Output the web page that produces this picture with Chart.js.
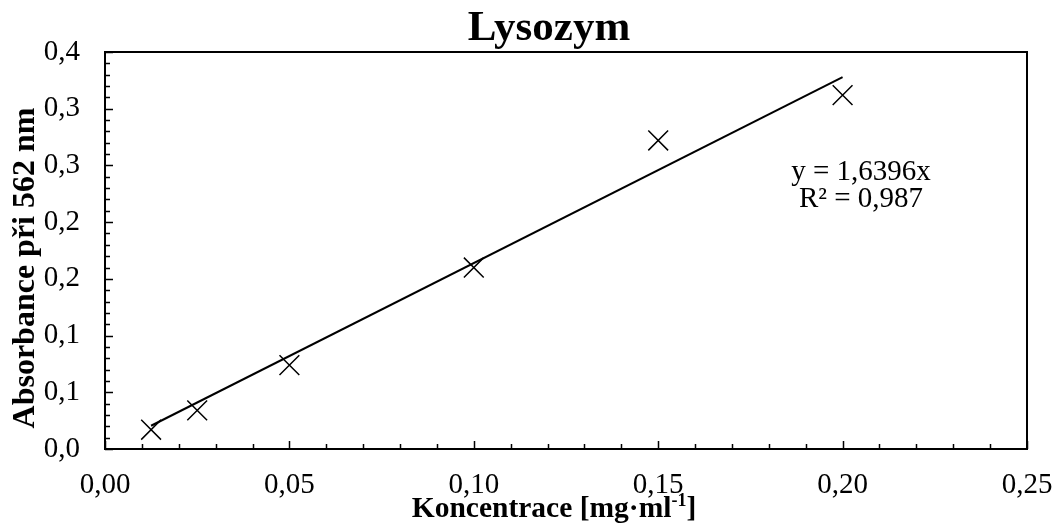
<!DOCTYPE html>
<html>
<head>
<meta charset="utf-8">
<script src="https://cdn.jsdelivr.net/npm/chart.js@4.4.1/dist/chart.umd.min.js"></script>
<style>
  html, body { margin: 0; padding: 0; background: #fff; }
  #wrap { width: 1052px; height: 523px; position: relative; }
</style>
</head>
<body>
<div id="wrap"><canvas id="c"></canvas></div>
<script>
// Lysozyme calibration (BCA assay, absorbance at 562 nm)
const concentrations = [0.0125, 0.025, 0.05, 0.1, 0.15, 0.2];
const absorbances = [0.017, 0.034, 0.074, 0.160, 0.272, 0.312];
const xTickLabels = ['0,00', '0,05', '0,10', '0,15', '0,20', '0,25'];
const yTickLabels = ['0,0', '0,1', '0,1', '0,2', '0,2', '0,3', '0,3', '0,4'];
const trendSlope = 1.6396;
const equationLines = ['y = 1,6396x', 'R² = 0,987'];

const chartTitle = 'Lysozym';
const yTitle = 'Absorbance při 562 nm';
const xTitleMain = 'Koncentrace [mg·ml';
const xTitleSup = '-1';
const xTitleEnd = ']';

const SERIF = '"Liberation Serif", "Times New Roman", serif';

const points = concentrations.map((x, i) => ({ x: x, y: absorbances[i] }));
const xFirst = concentrations[0];
const xLast = concentrations[concentrations.length - 1];
const trendPoints = [
  { x: xFirst, y: trendSlope * xFirst },
  { x: xLast, y: trendSlope * xLast }
];

// Frame, inward tick marks, titles and the regression equation
const decorations = {
  id: 'decorations',
  afterDraw(chart) {
    const { ctx, chartArea: a, scales } = chart;
    const xs = scales.x, ys = scales.y;
    ctx.save();
    ctx.strokeStyle = '#000';
    ctx.lineWidth = 1.5;
    ctx.beginPath();
    // x ticks: major every 0.05, minor every 0.01
    for (let k = 0; k <= 25; k++) {
      const px = Math.round(xs.getPixelForValue(k / 100)) + 0.5;
      const len = (k % 5 === 0) ? 8 : 5;
      ctx.moveTo(px, a.bottom);
      ctx.lineTo(px, a.bottom - len);
    }
    // y ticks: major every 0.05, minor every 0.01
    for (let k = 0; k <= 35; k++) {
      const py = Math.round(ys.getPixelForValue(k / 100)) + 0.5;
      const len = (k % 5 === 0) ? 8 : 5;
      ctx.moveTo(a.left, py);
      ctx.lineTo(a.left + len, py);
    }
    ctx.stroke();
    // plot frame
    ctx.lineWidth = 2;
    ctx.strokeRect(a.left, a.top, a.right - a.left, a.bottom - a.top);

    ctx.fillStyle = '#000';
    // chart title
    ctx.font = 'bold 43px ' + SERIF;
    ctx.textAlign = 'center';
    ctx.textBaseline = 'alphabetic';
    ctx.fillText(chartTitle, 549, 40);

    // regression equation
    ctx.font = '29px ' + SERIF;
    ctx.fillText(equationLines[0], 861, 180);
    ctx.fillText(equationLines[1], 861, 207);

    // x axis title with superscript exponent
    const mainFont = 'bold 29.5px ' + SERIF;
    const supFont = 'bold 18px ' + SERIF;
    ctx.font = mainFont;
    const wMain = ctx.measureText(xTitleMain).width;
    const wEnd = ctx.measureText(xTitleEnd).width;
    ctx.font = supFont;
    const wSup = ctx.measureText(xTitleSup).width;
    const total = wMain + wSup + wEnd;
    const x0 = 554 - total / 2;
    const base = 517;
    ctx.textAlign = 'left';
    ctx.font = mainFont;
    ctx.fillText(xTitleMain, x0, base);
    ctx.font = supFont;
    ctx.fillText(xTitleSup, x0 + wMain, base - 11);
    ctx.font = mainFont;
    ctx.fillText(xTitleEnd, x0 + wMain + wSup, base);

    // y axis title, rotated
    ctx.translate(34, 268);
    ctx.rotate(-Math.PI / 2);
    ctx.textAlign = 'center';
    ctx.font = 'bold 32px ' + SERIF;
    ctx.fillText(yTitle, 0, 0);
    ctx.restore();
  }
};

new Chart(document.getElementById('c'), {
  type: 'scatter',
  data: {
    datasets: [
      {
        label: 'Lysozym',
        data: points,
        pointStyle: 'crossRot',
        pointRadius: 14,
        pointHoverRadius: 14,
        pointBorderWidth: 1.5,
        borderColor: '#000',
        backgroundColor: '#000',
        showLine: false
      },
      {
        label: 'Lineární regrese',
        data: trendPoints,
        showLine: true,
        pointRadius: 0,
        borderColor: '#000',
        borderWidth: 2,
        fill: false
      }
    ]
  },
  plugins: [decorations],
  options: {
    responsive: true,
    maintainAspectRatio: false,
    animation: false,
    devicePixelRatio: 1,
    layout: { padding: { top: 52, right: 0, left: 0, bottom: 0 } },
    plugins: {
      legend: { display: false },
      title: { display: false },
      tooltip: { enabled: false }
    },
    scales: {
      x: {
        type: 'linear',
        min: 0,
        max: 0.25,
        grid: { display: false, drawTicks: false },
        border: { display: false },
        ticks: {
          stepSize: 0.05,
          padding: 19,
          color: '#000',
          font: { family: SERIF, size: 29 },
          maxRotation: 0,
          callback: (v, i) => xTickLabels[i]
        },
        afterFit(scale) {
          scale.height = 74;
          scale.paddingLeft = 0;
          scale.paddingRight = 25;
        }
      },
      y: {
        type: 'linear',
        min: 0,
        max: 0.35,
        grid: { display: false, drawTicks: false },
        border: { display: false },
        ticks: {
          stepSize: 0.05,
          padding: 25,
          color: '#000',
          font: { family: SERIF, size: 29 },
          callback: (v, i) => yTickLabels[i]
        },
        afterFit(scale) {
          scale.width = 105;
          scale.paddingTop = 0;
          scale.paddingBottom = 0;
        }
      }
    }
  }
});
</script>
</body>
</html>
